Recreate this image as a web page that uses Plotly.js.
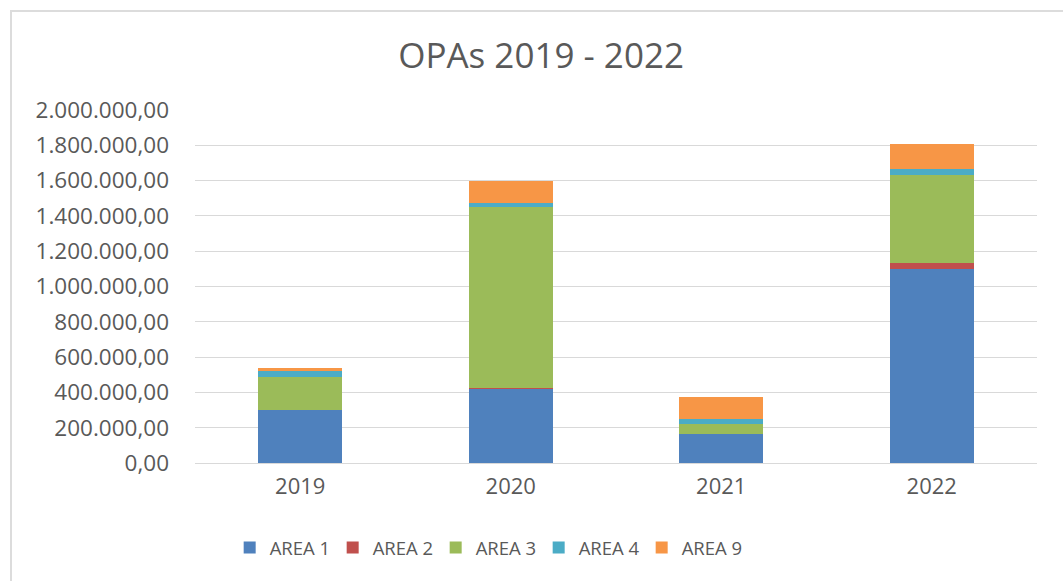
<!DOCTYPE html>
<html>
<head>
<meta charset="utf-8">
<script src="https://cdn.plot.ly/plotly-3.0.1.min.js"></script>
<style>
  html, body { margin: 0; padding: 0; background: #ffffff; overflow: hidden; }
  #wrap { position: relative; width: 1063px; height: 581px; overflow: hidden; }
  #chart { position: absolute; left: 0; top: 0; width: 1063px; height: 581px; }
  #frame { position: absolute; left: 10px; top: 10px; width: 1100px; height: 600px;
           border: 2px solid #dcdcdc; box-sizing: border-box; pointer-events: none; }
</style>
</head>
<body>
<div id="wrap">
  <div id="chart"></div>
  <div id="frame"></div>
</div>
<script>
const years = ['2019', '2020', '2021', '2022'];
const seriesNames = ['AREA 1', 'AREA 2', 'AREA 3', 'AREA 4', 'AREA 9'];
const area1 = [300000, 420000, 162000, 1102000];
const area2 = [2000, 6000, 0, 30000];
const area3 = [188000, 1025000, 57000, 498000];
const area4 = [30000, 23000, 32000, 34000];
const area9 = [20000, 122000, 124000, 146000];
const colors = ['#4F81BD', '#C0504D', '#9BBB59', '#4BACC6', '#F79646'];

const values = [area1, area2, area3, area4, area9];
const traces = values.map((v, i) => ({
  type: 'bar',
  name: seriesNames[i],
  x: years,
  y: v,
  marker: { color: colors[i] },
  hoverinfo: 'x+y+name'
}));

const font = 'Open Sans, Liberation Sans, sans-serif';
const layout = {
  width: 1063,
  height: 581,
  barmode: 'stack',
  bargap: 0.6,
  separators: ',.',
  paper_bgcolor: '#ffffff',
  plot_bgcolor: '#ffffff',
  margin: { l: 195, r: 26, t: 110, b: 118 },
  title: {
    text: 'OPAs 2019 - 2022',
    font: { family: font, size: 35, color: '#595959' },
    xref: 'container', x: 0.509, xanchor: 'center',
    yref: 'container', y: 0.904, yanchor: 'middle'
  },
  xaxis: {
    type: 'category',
    tickfont: { family: font, size: 22, color: '#595959' },
    showgrid: false,
    showline: false,
    ticks: '',
    ticklabelstandoff: 8
  },
  yaxis: {
    range: [0, 2000000],
    dtick: 200000,
    tickformat: ',.2f',
    tickfont: { family: font, size: 22.5, color: '#595959' },
    gridcolor: '#d9d9d9',
    gridwidth: 1,
    zeroline: true,
    zerolinecolor: '#d9d9d9',
    zerolinewidth: 1,
    showline: false,
    ticks: '',
    ticklabelstandoff: 25
  },
  showlegend: true,
  legend: {
    orientation: 'h',
    x: 0.347, xanchor: 'center',
    y: -0.241, yanchor: 'middle',
    font: { family: font, size: 18.5, color: '#595959' },
    entrywidth: 58,
    entrywidthmode: 'pixels',
    traceorder: 'normal',
    itemclick: false
  }
};

Plotly.newPlot('chart', traces, layout, { displayModeBar: false, staticPlot: true });
</script>
</body>
</html>
